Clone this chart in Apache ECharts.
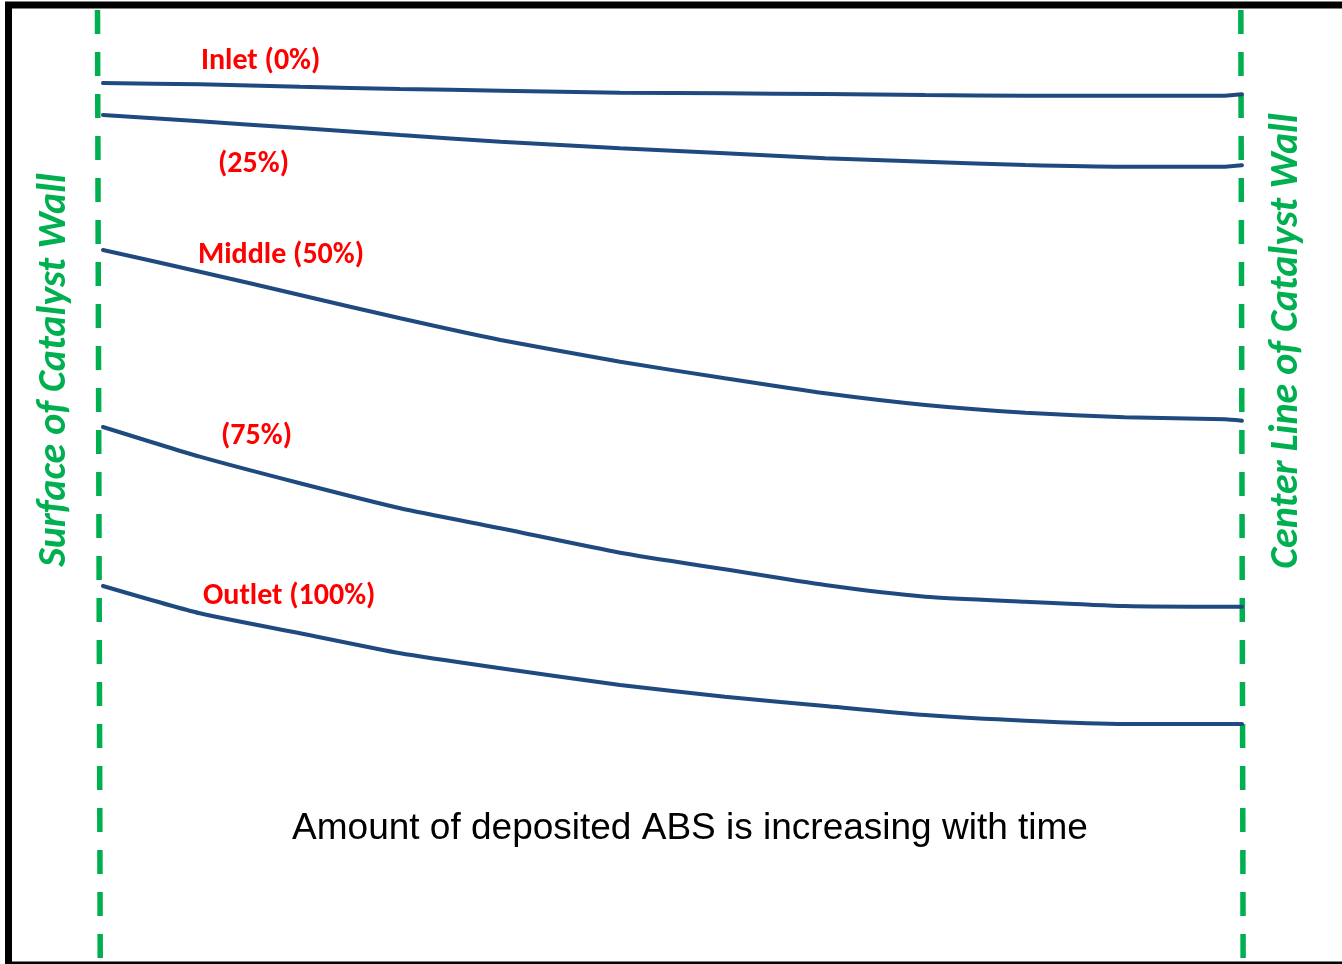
<!DOCTYPE html>
<html>
<head>
<meta charset="utf-8">
<title>ABS deposition profile</title>
<script src="https://cdn.jsdelivr.net/npm/echarts@6/dist/echarts.min.js"></script>
<style>
  html, body { margin: 0; padding: 0; background: #fff; }
  #chart { width: 1342px; height: 964px; }
</style>
</head>
<body>
<div id="chart"></div>
<script>
// position across the wall, % from wall surface (0) to centre line (100)
var positions = [0, 8.5, 17.3, 26.1, 34.9, 45.4, 54.6, 63.4, 72.2, 81.0, 89.7, 98.5, 100];

// vertical level of each profile (screen units, grows downward)
var inlet  = [83, 84.3, 86.7, 89, 90.7, 92.7, 93.3, 94, 95, 95.7, 95.7, 95.7, 94.3];
var pct25  = [115, 121.3, 128, 135, 141.7, 148.3, 153.3, 158.3, 161.7, 165, 166.7, 166.7, 165.3];
var middle = [250, 271.7, 295, 318.3, 340, 361.7, 378.3, 393.3, 405, 412.7, 417.3, 419.3, 420.7];
var pct75  = [427, 456.7, 483.3, 508.3, 528.3, 552.7, 569.3, 585, 596.7, 601.7, 606, 606.7, 606.7];
var outlet = [586, 613.3, 633.3, 653.3, 668.3, 685, 696.7, 706, 715, 720.7, 724, 724, 724];

var profileNames = ['Inlet (0%)', '(25%)', 'Middle (50%)', '(75%)', 'Outlet (100%)'];

// dashed wall markers
var wallY = [10, 964];
var surfaceX = [-0.48, -0.24];
var centerX = [99.9, 100.1];

var chart = echarts.init(document.getElementById('chart'));

function pairs(xs, ys) {
  return xs.map(function (x, i) { return [x, ys[i]]; });
}

var lineColor = '#1F4A80';
var green = '#00B050';

var profiles = [inlet, pct25, middle, pct75, outlet];
var series = profiles.map(function (vals, i) {
  return {
    name: profileNames[i],
    type: 'line',
    data: pairs(positions, vals),
    smooth: 0.2,
    showSymbol: false,
    silent: true,
    lineStyle: { color: lineColor, width: 4, cap: 'round' },
    z: 3
  };
});

[surfaceX, centerX].forEach(function (xs, i) {
  series.push({
    name: i === 0 ? 'surface' : 'centre',
    type: 'line',
    data: pairs(xs, wallY),
    showSymbol: false,
    silent: true,
    lineStyle: { color: green, width: 5.5, type: [24, 18] },
    z: 2
  });
});

var labelFont = 'Calibri, Carlito, "Noto Sans", sans-serif';

// red profile labels: [left, middle y]
var labelPos = [[201, 61], [218, 164], [198, 255], [221, 436], [203, 596]];
var redLabels = profileNames.map(function (name, i) {
  return {
    type: 'text',
    x: labelPos[i][0], y: labelPos[i][1],
    style: {
      text: name, fill: '#FF0000', font: 'bold 30px ' + labelFont,
      align: 'left', verticalAlign: 'middle'
    }
  };
});

chart.setOption({
  backgroundColor: '#fff',
  animation: false,
  grid: { left: 0, right: 0, top: 0, bottom: 0 },
  xAxis: { type: 'value', min: -9.04, max: 108.78, show: false },
  yAxis: { type: 'value', min: 0, max: 964, inverse: true, show: false },
  series: series,
  graphic: [
    {
      type: 'rect',
      shape: { x: 8.5, y: 5, width: 1400, height: 960 },
      style: { fill: 'none', stroke: '#000', lineWidth: 7 },
      z: 10
    },
    {
      type: 'text',
      x: 55, y: 370, rotation: Math.PI / 2,
      style: {
        text: 'Surface of Catalyst Wall', fill: green,
        font: 'italic bold 40px ' + labelFont,
        align: 'center', verticalAlign: 'middle'
      }
    },
    {
      type: 'text',
      x: 1287, y: 341, rotation: Math.PI / 2,
      style: {
        text: 'Center Line of Catalyst Wall', fill: green,
        font: 'italic bold 40px ' + labelFont,
        align: 'center', verticalAlign: 'middle'
      }
    },
    {
      type: 'text',
      x: 690, y: 829,
      style: {
        text: 'Amount of deposited ABS is increasing with time', fill: '#000',
        font: '37px Arial, "Liberation Sans", sans-serif',
        align: 'center', verticalAlign: 'middle'
      }
    }
  ].concat(redLabels)
});
</script>
</body>
</html>
